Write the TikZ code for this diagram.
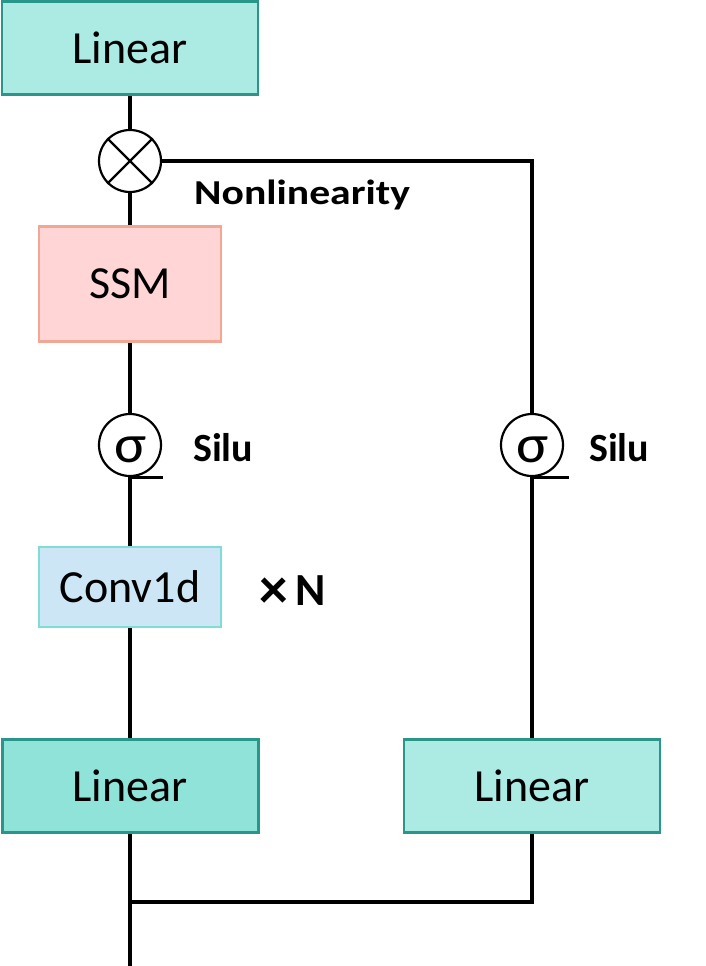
\documentclass[tikz,border=0pt]{standalone}
\usepackage{fontspec}
\usetikzlibrary{calc}
\setmainfont{Carlito}
\definecolor{lin}{HTML}{ABEBE4}
\definecolor{linD}{HTML}{8FE3D9}
\definecolor{linB}{HTML}{2A9689}
\definecolor{ssmF}{HTML}{FFD5D5}
\definecolor{ssmB}{HTML}{F2A795}
\definecolor{convF}{HTML}{CCE6F5}
\definecolor{convB}{HTML}{7FDDD5}
\begin{document}
\begin{tikzpicture}[x=1pt,y=-1pt,
  box/.style={draw, rectangle, inner sep=0pt, font=\fontsize{46}{50}\selectfont},
  linbox/.style={box, fill=lin, draw=linB, line width=2.2pt, minimum width=256, minimum height=93},
  op/.style={draw, circle, line width=2.2pt, minimum size=62, inner sep=0pt},
  sigtxt/.style={inner sep=0pt, font=\fontsize{54}{58}\selectfont},
  lbl/.style={font=\fontsize{40}{44}\selectfont\bfseries, anchor=west, inner sep=0pt},
  wire/.style={line width=3.2pt}]
\useasboundingbox (0,0) rectangle (706,966);
\node[linbox] (lin1) at (130,48) {Linear};
\node[op] (mul) at (130,161) {};
\draw[line width=2.2pt] (mul.north west) -- (mul.south east) (mul.north east) -- (mul.south west);
\node[box, fill=ssmF, draw=ssmB, line width=2.8pt, minimum width=182, minimum height=115] (ssm) at (130,284) {SSM};
\node[op] (sig1) at (130,445) {};
\node[sigtxt] (g1) at (131,450) {\scalebox{1.12}[1]{σ}};
\coordinate (t1) at ($(sig1.south)+(33,0)$);
\node[box, fill=convF, draw=convB, line width=2.8pt, minimum width=182, minimum height=80] (conv) at (130,587) {Conv1d};
\node[linbox, fill=linD, line width=3pt] (lin2) at (130,786) {Linear};
\node[linbox] (lin3) at (532,786) {Linear};
\node[op] (sig2) at (532,445) {};
\node[sigtxt] (g2) at (533,450) {\scalebox{1.12}[1]{σ}};
\coordinate (t2) at ($(sig2.south)+(37,0)$);
\coordinate (c1) at (532,161);
\coordinate (c2) at (532,902);
\coordinate (c3) at (130,902);
\coordinate (out) at (130,966);
\node[lbl, font=\fontsize{35}{38}\selectfont\bfseries] (nl) at (194,195) {\scalebox{1.19}[1]{Nonlinearity}};
\node[lbl] (s1) at (193,448) {Silu};
\node[lbl] (s2) at (589,448) {Silu};
\node[lbl, font=\fontsize{46}{50}\selectfont\bfseries] (xn) at (259,592) {\raisebox{-3pt}{\scalebox{1.25}{×}}\hspace{8pt}N};
\draw[wire] (lin1) -- (mul);
\draw[wire] (mul) -- (ssm);
\draw[wire] (ssm) -- (sig1);
\draw[wire] (sig1) -- (conv);
\draw[wire] (conv) -- (lin2);
\draw[wire] (lin2) -- (out);
\draw[wire] (sig1.south) -- (t1);
\draw[wire] (sig2.south) -- (t2);
\draw[wire] (mul.east) -- (c1) -- (sig2);
\draw[wire] (sig2) -- (lin3);
\draw[wire] (lin3) -- (c2) -- (c3);
\end{tikzpicture}
\end{document}
